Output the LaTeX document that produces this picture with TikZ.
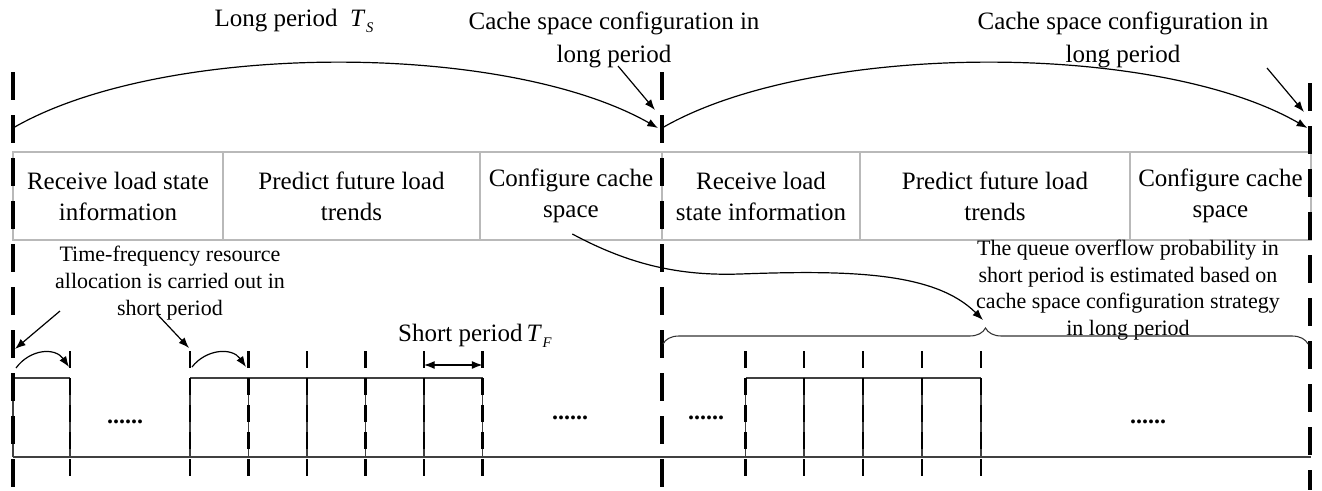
\documentclass[tikz,border=0pt]{standalone}
\usepackage{fontspec}
\setmainfont{Liberation Serif}
\usetikzlibrary{arrows.meta,decorations.pathreplacing}

\newcommand{\perv}[2]{\textit{#1}\kern0.5pt\raisebox{-0.22em}{\fontsize{11pt}{11pt}\selectfont\textit{#2}}}

\begin{document}
\begin{tikzpicture}[x=0.75pt,y=-0.75pt,
  bigtxt/.style={font=\fontsize{18.75pt}{24.5pt}\selectfont, inner sep=0pt, align=center},
  smalltxt/.style={font=\fontsize{16.5pt}{20pt}\selectfont, inner sep=0pt, align=center},
  stage/.style={draw=gray!55, line width=0.9pt, minimum height=66pt, inner sep=0pt, outer sep=0pt, align=center, font=\fontsize{18.75pt}{23.25pt}\selectfont},
  longdash/.style={line width=2.6pt, dash pattern=on 21pt off 11.25pt},
  shortdash/.style={line width=1.7pt, dash pattern=on 12.75pt off 7.5pt},
  arr/.style={line width=0.9pt, -{Latex[length=8pt,width=6pt]}},
  wave/.style={line width=0.9pt, black!75},
  dotnode/.style={font=\fontsize{18pt}{18pt}\selectfont\bfseries, inner sep=0pt, anchor=base}
]
\useasboundingbox (0,0) rectangle (1322,490);

% stage boxes
\node[stage, minimum width=157.5pt]  (b1) at (118,196)   {Receive load state\\information};
\node[stage, minimum width=192.75pt] (b2) at (351.5,196) {Predict future load\\trends};
\node[stage, minimum width=136.5pt]  (b3) at (571,196)   {Configure cache\\space};
\node[stage, minimum width=148.5pt]  (b4) at (761,196)   {Receive load\\state information};
\node[stage, minimum width=202.5pt]  (b5) at (995,196)   {Predict future load\\trends};
\node[stage, minimum width=135.75pt] (b6) at (1220.5,196){Configure cache\\space};

% square wave
\draw[wave] (13,457) -- (1311,457);
\draw[wave] (13,378) -- (70,378);
\draw[wave] (190,378) -- (482.5,378);
\draw[wave] (745.5,378) -- (981,378);
\foreach \x in {13,70,190,248.5,307,365.5,424,482.5,745.5,804,863,922,981}
  \draw[wave] (\x,378) -- (\x,457);

% dashed time marks
\foreach \x in {13,662}
  \draw[longdash] (\x,72) -- (\x,490);
\draw[longdash] (1310,83) -- (1310,490);
\foreach \x in {70,190,248.5,307,365.5,424,482.5,745.5,804,863,922,981}
  \draw[shortdash] (\x,351) -- (\x,479);

% dots
\node[dotnode] (d1) at (125,423) {......};
\node[dotnode] (d2) at (570,419) {......};
\node[dotnode] (d3) at (706,419) {......};
\node[dotnode] (d4) at (1148,423) {......};

% top labels
\node[bigtxt] (lp) at (294,21) {Long period\ \ \perv{T}{S}};
\node[bigtxt] (c1) at (614,40) {Cache space configuration in\\long period};
\node[bigtxt] (c2) at (1123,40) {Cache space configuration in\\long period};

% long period arcs
\coordinate (p0) at (13,128);
\coordinate (p1) at (662,128);
\coordinate (p2) at (1310,128);
\draw[arr] (p0) .. controls (163,41) and (505,41) .. ([xshift=-3]p1);
\draw[arr] (p1) .. controls (812,41) and (1157,41) .. ([xshift=-2]p2);

\coordinate (c1s) at (618,66);
\coordinate (c1e) at (655,110);
\coordinate (c2s) at (1267,68);
\coordinate (c2e) at (1304,112);
\draw[arr] (c1s) -- (c1e);
\draw[arr] (c2s) -- (c2e);

% short period labels
\node[smalltxt] (tf) at (170,283) {Time-frequency resource\\allocation is carried out in\\short period};
\coordinate (t1s) at (60,311);
\coordinate (t1e) at (15,349);
\coordinate (t2s) at (157,314);
\coordinate (t2e) at (189,348);
\draw[arr] (t1s) -- (t1e);
\draw[arr] (t2s) -- (t2e);

\coordinate (s1a) at (16,368);
\coordinate (s1b) at (69,367);
\coordinate (s2a) at (192,367);
\coordinate (s2b) at (246,367);
\draw[arr] (s1a) .. controls (30,349) and (55,347) .. (s1b);
\draw[arr] (s2a) .. controls (206,349) and (232,347) .. (s2b);

\node[bigtxt] (sp) at (475,336) {Short period\,\perv{T}{F}};
\coordinate (spa) at (424,365);
\coordinate (spb) at (482.5,365);
\draw[line width=0.9pt, {Latex[length=8pt,width=6pt]}-{Latex[length=8pt,width=6pt]}] (spa) -- (spb);

% queue text, brace, link from cache configuration
\node[smalltxt] (qo) at (1128,290) {The queue overflow probability in\\short period is estimated based on\\cache space configuration strategy\\in long period};
\draw[line width=0.8pt, black!80, decorate, decoration={brace, amplitude=12pt}] (663,344) -- (1308,344);
\coordinate (brtip) at (983,320);
\draw[arr] ([xshift=1]b3.south |- 0,234) .. controls (630,265) and (680,276) .. (740,274)
  .. controls (850,270) and (935,272) .. (brtip);
\end{tikzpicture}
\end{document}
